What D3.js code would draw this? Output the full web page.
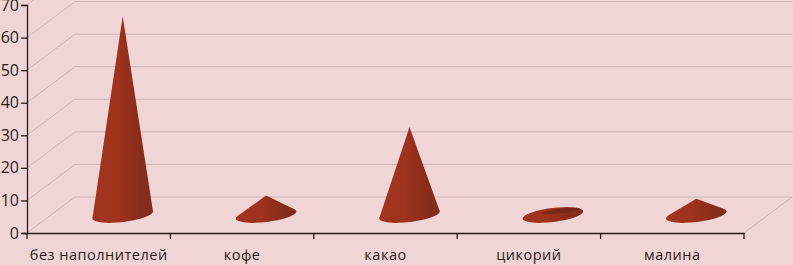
<!DOCTYPE html>
<html>
<head>
<meta charset="utf-8">
<script src="https://cdnjs.cloudflare.com/ajax/libs/d3/7.8.5/d3.min.js"></script>
<style>
html, body { margin: 0; padding: 0; background: #f0d5d6; }
svg { display: block; }
text { font-family: "Open Sans", sans-serif; fill: #2b2020; }
</style>
</head>
<body>
<svg id="chart" width="793" height="265"></svg>
<script>
const categories = ["без наполнителей", "кофе", "какао", "цикорий", "малина"];
const values = [61, 6, 27, 1, 5];
const yTicks = [0, 10, 20, 30, 40, 50, 60, 70];

const width = 793, height = 265;
const left = 27, right = 744, floorY = 233, topY = 5;
const depthX = 48, depthY = 36;
const rx = 30.5, ry = 7, tilt = -7;

const svg = d3.select("#chart");
const x = d3.scaleBand().domain(categories).range([left, right]);
const y = d3.scaleLinear().domain([0, 70]).range([floorY, topY]);

const defs = svg.append("defs");
const grad = defs.append("linearGradient").attr("id", "cone");
grad.append("stop").attr("offset", "0%").attr("stop-color", "#a0341f");
grad.append("stop").attr("offset", "40%").attr("stop-color", "#a0331e");
grad.append("stop").attr("offset", "80%").attr("stop-color", "#872c1a");
grad.append("stop").attr("offset", "100%").attr("stop-color", "#822c1a");

// back wall lines and the slanted ones on the side wall
const wall = svg.append("g").attr("stroke", "#cfb5b5").attr("fill", "none");
yTicks.forEach(v => {
    wall.append("line")
        .attr("x1", left).attr("y1", y(v))
        .attr("x2", left + depthX).attr("y2", y(v) - depthY);
    wall.append("line")
        .attr("x1", left + depthX).attr("y1", y(v) - depthY)
        .attr("x2", width).attr("y2", y(v) - depthY);
});
wall.append("line")
    .attr("x1", right).attr("y1", floorY)
    .attr("x2", right + depthX).attr("y2", floorY - depthY);

// cones: base ellipse plus the two tangents from the apex
const rad = tilt * Math.PI / 180;
const cones = svg.append("g");
categories.forEach((c, i) => {
    const cx = x(c) + x.bandwidth() / 2 + depthX / 2;
    const cy = y(0) - depthY / 2;
    const apexY = y(values[i]) - depthY / 2;
    cones.append("ellipse")
        .attr("cx", cx).attr("cy", cy).attr("rx", rx).attr("ry", ry)
        .attr("transform", `rotate(${tilt} ${cx} ${cy})`)
        .attr("fill", "url(#cone)");

    // apex in the ellipse's own frame, squeezed so the ellipse is a circle
    const dy = apexY - cy;
    const ax = dy * Math.sin(rad);
    const ay = dy * Math.cos(rad) * rx / ry;
    const dist = Math.hypot(ax, ay);
    if (dist <= rx) {
        // almost no height: only a dark sliver on top of the base
        cones.append("ellipse")
            .attr("cx", cx + 8).attr("cy", cy - 4).attr("rx", 19).attr("ry", 2.2)
            .attr("transform", `rotate(${tilt} ${cx + 8} ${cy - 4})`)
            .attr("fill", "#7a2716");
        return;
    }
    const base = Math.atan2(ay, ax);
    const off = Math.acos(rx / dist);
    const toPage = a => {
        const ex = rx * Math.cos(a), ey = ry * Math.sin(a);
        return [cx + ex * Math.cos(rad) - ey * Math.sin(rad),
                cy + ex * Math.sin(rad) + ey * Math.cos(rad)];
    };
    const t1 = toPage(base - off), t2 = toPage(base + off);
    const p = d3.path();
    p.moveTo(t1[0], t1[1]);
    p.lineTo(cx, apexY);
    p.lineTo(t2[0], t2[1]);
    p.closePath();
    cones.append("path").attr("d", p.toString()).attr("fill", "url(#cone)");
});

// axes
const yAxis = svg.append("g")
    .attr("transform", `translate(${left},0)`)
    .call(d3.axisLeft(y).tickValues(yTicks).tickSize(6).tickPadding(2));
yAxis.selectAll("text").style("font-size", "16px");

const xAxis = svg.append("g")
    .attr("transform", `translate(0,${floorY})`)
    .call(d3.axisBottom(x).tickSize(0).tickPadding(17));
xAxis.selectAll("text").style("font-size", "14.5px").style("letter-spacing", "0.5px");

const boundaries = categories.map(c => x(c)).concat([right]);
xAxis.selectAll(".bound").data(boundaries).enter().append("line")
    .attr("class", "bound")
    .attr("x1", d => d).attr("x2", d => d)
    .attr("y1", 0).attr("y2", 6);

svg.selectAll(".domain, .tick line, .bound")
    .attr("stroke", "#2b1a1a").attr("stroke-width", 1.3);
</script>
</body>
</html>
